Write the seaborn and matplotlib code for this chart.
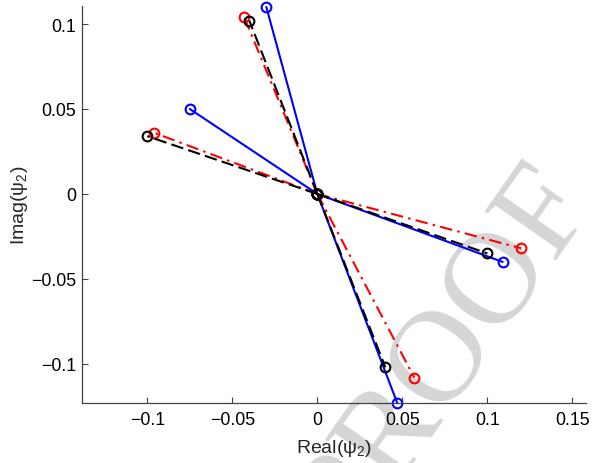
import matplotlib
matplotlib.use("Agg")
import matplotlib.pyplot as plt
import seaborn as sns
import pandas as pd

# ---- data (endpoints of each mode shape component, all starting at origin) ----
blue_re = [-0.075, -0.030, 0.109, 0.047]
blue_im = [0.050, 0.110, -0.040, -0.123]
red_re = [-0.096, -0.043, 0.120, 0.057]
red_im = [0.036, 0.104, -0.032, -0.108]
black_re = [-0.100, -0.040, 0.100, 0.040]
black_im = [0.034, 0.102, -0.035, -0.102]

xticks = [-0.1, -0.05, 0, 0.05, 0.1, 0.15]
xticklabels = ["\u22120.1", "\u22120.05", "0", "0.05", "0.1", "0.15"]
yticks = [-0.1, -0.05, 0, 0.05, 0.1]
yticklabels = ["\u22120.1", "\u22120.05", "0", "0.05", "0.1"]

sns.set_theme(style="ticks")
plt.rcParams["font.family"] = ["Liberation Sans", "DejaVu Sans"]
plt.rcParams["mathtext.fontset"] = "custom"
plt.rcParams["mathtext.rm"] = "Liberation Sans"
plt.rcParams["mathtext.it"] = "Liberation Sans"

fig = plt.figure(figsize=(6.0, 4.64), dpi=100)
ax = fig.add_axes([82 / 600, 1 - 404 / 464, (586 - 82) / 600, (404 - 7) / 464])
ax.patch.set_facecolor("none")


def segments(re, im):
    rows = []
    for k, (x, y) in enumerate(zip(re, im)):
        rows.append({"x": 0.0, "y": 0.0, "seg": k})
        rows.append({"x": x, "y": y, "seg": k})
    return pd.DataFrame(rows)


series = [
    (blue_re, blue_im, "#0000ff", "-"),
    (red_re, red_im, "#ff0000", (0, (6, 2.5, 1.2, 2.5))),
    (black_re, black_im, "#000000", (0, (6, 2.5))),
]
for re, im, col, ls in series:
    df = segments(re, im)
    sns.lineplot(data=df, x="x", y="y", units="seg", estimator=None, sort=False,
                 color=col, linestyle=ls, linewidth=1.5, marker="o",
                 markersize=7, markerfacecolor="none", markeredgecolor=col,
                 markeredgewidth=1.5, ax=ax, clip_on=False, legend=False)

# watermark
ax.text(446 / 600, 1 - 356 / 464, "PROOF", transform=fig.transFigure,
        fontsize=95, family=["Liberation Serif", "DejaVu Serif"],
        color="#d6d6d6", rotation=55, rotation_mode="anchor",
        ha="center", va="center", zorder=0.5, clip_on=False)

ax.set_xlim(-0.1384, 0.158)
ax.set_ylim(-0.123, 0.1106)
ax.set_xticks(xticks)
ax.set_xticklabels(xticklabels)
ax.set_yticks(yticks)
ax.set_yticklabels(yticklabels)
ax.tick_params(direction="in", length=4, width=0.8, colors="#444444",
               labelcolor="black", labelsize=12.8)
ax.tick_params(axis="x", pad=6)
ax.tick_params(axis="y", pad=4)
for s in ["top", "right"]:
    ax.spines[s].set_visible(False)
for s in ["left", "bottom"]:
    ax.spines[s].set_color("#444444")
    ax.spines[s].set_linewidth(0.9)

ax.set_xlabel("Real($\\mathregular{\\psi_2}$)", fontsize=14, labelpad=6)
ax.set_ylabel("Imag($\\mathregular{\\psi_2}$)", fontsize=14, labelpad=1)

fig.savefig("out.png", dpi=100)
